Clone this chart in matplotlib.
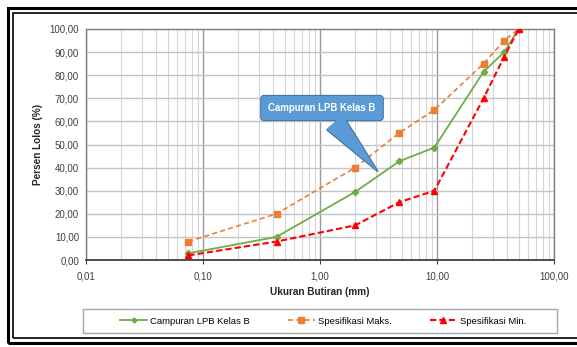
import matplotlib
matplotlib.use("Agg")
import matplotlib.pyplot as plt
from matplotlib.patches import Rectangle
from matplotlib.ticker import FixedLocator, FuncFormatter, LogLocator, NullFormatter

plt.rcParams['font.family'] = ['Liberation Sans', 'DejaVu Sans']

# Sieve sizes (mm) and percent passing
sieve_mm = [0.075, 0.425, 2.0, 4.75, 9.5, 25.0, 37.5, 50.0]
campuran = [2.9, 10.0, 29.5, 42.7, 48.7, 81.5, 90.0, 100.0]
spec_max = [8.0, 20.0, 40.0, 55.0, 65.0, 85.0, 95.0, 100.0]
spec_min = [2.0, 8.0, 15.0, 25.0, 30.0, 70.0, 88.0, 100.0]

x_ticks = [0.01, 0.1, 1, 10, 100]
y_ticks = list(range(0, 101, 10))

series_names = ["Campuran LPB Kelas B", "Spesifikasi Maks.", "Spesifikasi Min."]

W, H = 577, 347
fig = plt.figure(figsize=(W / 100, H / 100), dpi=100)
fig.patch.set_facecolor("white")

ax = fig.add_axes([86 / W, 1 - 260 / H, (554 - 86) / W, (260 - 29) / H])
ax.set_xscale("log")
ax.set_xlim(0.01, 100)
ax.set_ylim(0, 100)

# grid
ax.xaxis.set_major_locator(FixedLocator(x_ticks))
ax.xaxis.set_minor_locator(LogLocator(base=10, subs=range(2, 10), numticks=20))
ax.xaxis.set_minor_formatter(NullFormatter())
ax.yaxis.set_major_locator(FixedLocator(y_ticks))
ax.grid(True, which="major", axis="x", color="#9a9a9a", linewidth=1.0)
ax.grid(True, which="minor", axis="x", color="#d6d6d6", linewidth=0.8)
ax.grid(True, which="major", axis="y", color="#c4c4c4", linewidth=1.0)
ax.set_axisbelow(True)

comma = lambda v, p: f"{v:.2f}".replace(".", ",")
ax.xaxis.set_major_formatter(FuncFormatter(comma))
ax.yaxis.set_major_formatter(FuncFormatter(comma))
ax.tick_params(axis="both", which="major", labelsize=7, colors="#404040", length=0, pad=5)
ax.tick_params(axis="x", which="minor", length=0)
ax.tick_params(axis="x", which="major", length=3, color="#404040", pad=5)

for s in ["top", "right", "left"]:
    ax.spines[s].set_color("#7f7f7f")
    ax.spines[s].set_linewidth(1.0)
ax.spines["bottom"].set_color("#404040")
ax.spines["bottom"].set_linewidth(1.3)

l1, = ax.plot(sieve_mm, campuran, color="#70ad47", linewidth=1.3, marker="D",
              markersize=3.2, label=series_names[0], zorder=4)
l2, = ax.plot(sieve_mm, spec_max, color="#ed7d31", linewidth=1.2, linestyle=(0, (3, 2)),
              marker="s", markersize=4.8, label=series_names[1], zorder=3)
l3, = ax.plot(sieve_mm, spec_min, color="#ff0000", linewidth=1.5, linestyle=(0, (3, 1.5)),
              marker="^", markersize=4.6, label=series_names[2], zorder=5)

ax.set_xlabel("Ukuran Butiran (mm)", fontsize=7.2, fontweight="bold", labelpad=4, color="#262626")
ax.set_ylabel("Persen Lolos (%)", fontsize=7.2, fontweight="bold", labelpad=5, color="#262626")

# callout pointing at the blend curve: outlined shape, then a borderless fill on top
callout_tip = (3.1, 38.5)
callout_at = (1.04, 65.8)
for edge, lw, z in [("#41719c", 1.4, 6), ("none", 0.0, 7)]:
    ax.annotate(series_names[0], xy=callout_tip, xytext=callout_at,
                ha="center", va="center", fontsize=6.9, color="white", fontweight="bold",
                bbox=dict(boxstyle="round,pad=0.75,rounding_size=0.35", fc="#5b9bd5", ec=edge, lw=lw),
                arrowprops=dict(arrowstyle="wedge,tail_width=2.2,shrink_factor=0.5", fc="#5b9bd5",
                                ec=edge, lw=lw, shrinkB=0),
                zorder=z)

# legend with its own frame
fig.patches.append(Rectangle((83 / W, 1 - 333 / H), (557 - 83) / W, (333 - 309) / H,
                             transform=fig.transFigure, fill=False, ec="#a6a6a6", lw=1.0))
fig.legend(handles=[l1, l2, l3], loc="center", bbox_to_anchor=(323 / W, 1 - 321 / H),
           ncol=3, frameon=False, columnspacing=4.0, handlelength=2.9,
           handletextpad=0.3, prop={"size": 6.8}, markerscale=0.8)

# double outer frame
fig.patches.append(Rectangle((8 / W, 1 - 343 / H), (W + 10 - 8) / W, (343 - 8) / H,
                             transform=fig.transFigure, fill=False, ec="black", lw=2.2))
fig.patches.append(Rectangle((13 / W, 1 - 338 / H), (W + 10 - 13) / W, (338 - 13) / H,
                             transform=fig.transFigure, fill=False, ec="black", lw=1.2))

fig.savefig("out.png", dpi=100)
